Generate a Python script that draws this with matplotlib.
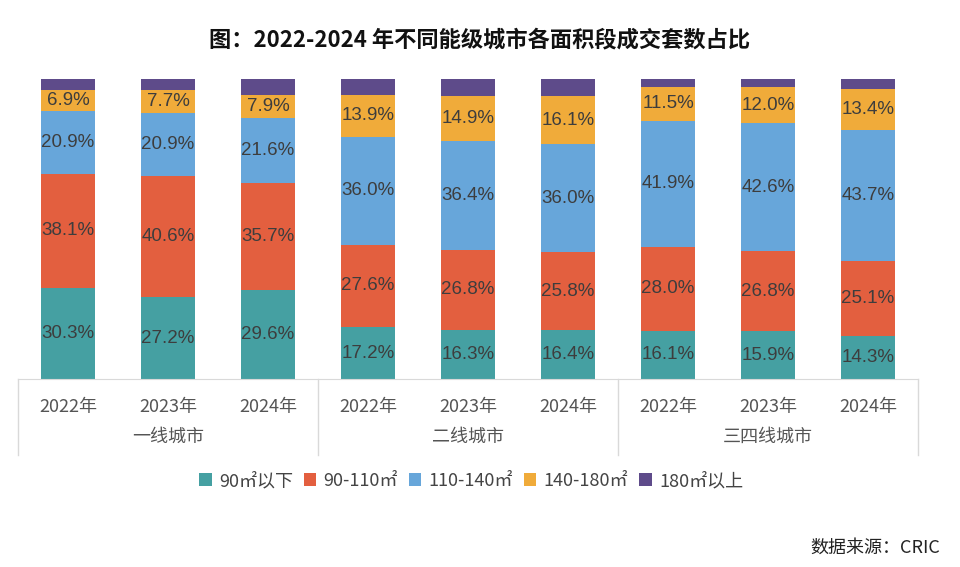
import matplotlib
matplotlib.use("Agg")
from matplotlib import pyplot as plt
from matplotlib.patches import Patch
import matplotlib.transforms as mtransforms

plt.rcParams['font.family'] = ['Noto Sans CJK SC', 'DejaVu Sans']

groups = ["一线城市", "二线城市", "三四线城市"]
years = ["2022年", "2023年", "2024年"]
series_names = ["90㎡以下", "90-110㎡", "110-140㎡", "140-180㎡", "180㎡以上"]
colors = ["#45a0a2", "#e35f3f", "#67a6da", "#f0ab3a", "#5e4b8a"]

s_90 = [30.3, 27.2, 29.6, 17.2, 16.3, 16.4, 16.1, 15.9, 14.3]
s_90_110 = [38.1, 40.6, 35.7, 27.6, 26.8, 25.8, 28.0, 26.8, 25.1]
s_110_140 = [20.9, 20.9, 21.6, 36.0, 36.4, 36.0, 41.9, 42.6, 43.7]
s_140_180 = [6.9, 7.7, 7.9, 13.9, 14.9, 16.1, 11.5, 12.0, 13.4]
# remainder up to 100%
s_180 = [round(100 - a - b - c - d, 1) for a, b, c, d in zip(s_90, s_90_110, s_110_140, s_140_180)]

data = [s_90, s_90_110, s_110_140, s_140_180, s_180]

fig = plt.figure(figsize=(9.6, 5.67), dpi=100)
ax = fig.add_axes([18 / 960, 188 / 567, 900 / 960, 300 / 567])

x = list(range(9))
bottom = [0] * 9
for i, vals in enumerate(data):
    ax.bar(x, vals, 0.54, bottom=bottom, color=colors[i], edgecolor="none")
    if i < 4:
        for xi, b, v in zip(x, bottom, vals):
            ax.text(xi, b + v / 2, "%.1f%%" % v, ha="center", va="center",
                    fontsize=13.5, color="#3d3d3d", family=['Liberation Sans', 'DejaVu Sans'])
    bottom = [b + v for b, v in zip(bottom, vals)]

ax.set_xlim(-0.5, 8.5)
ax.set_ylim(0, 100)
ax.set_yticks([])
ax.set_xticks(x)
ax.set_xticklabels(years * 3, fontsize=13, color="#555555")
ax.tick_params(axis="x", length=0, pad=14)
for sp in ["top", "left", "right"]:
    ax.spines[sp].set_visible(False)
ax.spines["bottom"].set_color("#d9d9d9")

trans = mtransforms.blended_transform_factory(ax.transData, ax.transAxes)
for xs in [-0.5, 2.5, 5.5, 8.5]:
    ax.plot([xs, xs], [0, -0.253], transform=trans, color="#d9d9d9", lw=1, clip_on=False)
for gi, g in enumerate(groups):
    ax.text(gi * 3 + 1, -0.193, g, transform=trans, ha="center", va="center",
            fontsize=13, color="#555555")

fig.text(0.5, 1 - 40 / 567, "图：2022-2024 年不同能级城市各面积段成交套数占比",
         ha="center", va="center", fontsize=16, fontweight="bold", color="#111111")

handles = [Patch(facecolor=c, edgecolor="none") for c in colors]
fig.legend(handles, series_names, loc="center", bbox_to_anchor=(471 / 960, 1 - 481 / 567),
           ncol=5, frameon=False, fontsize=13, handlelength=0.7, handleheight=0.7,
           handletextpad=0.4, columnspacing=0.6, labelcolor="#444444")

fig.text(940 / 960, 1 - 548 / 567, "数据来源：CRIC", ha="right", va="center",
         fontsize=13, color="#222222")

fig.savefig("out.png", dpi=100)
